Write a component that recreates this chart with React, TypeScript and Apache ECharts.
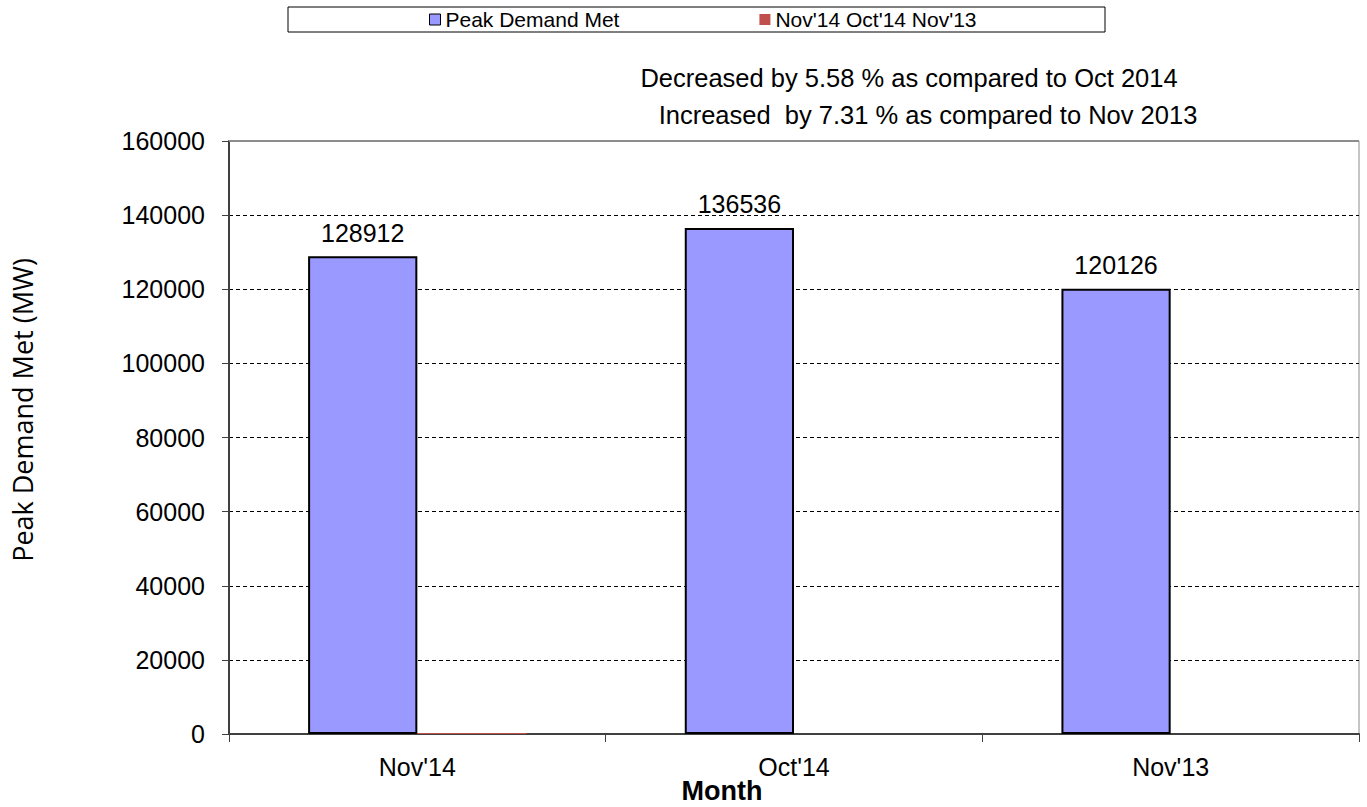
import React, { useEffect, useRef } from "react";
import * as echarts from "echarts";

const categories = ["Nov'14", "Oct'14", "Nov'13"];
const peakDemandMet = [128912, 136536, 120126];
const secondSeries = [300, 0, 0];
const seriesNames = ["Peak Demand Met", "Nov'14 Oct'14 Nov'13"];
const yTicks = { min: 0, max: 160000, interval: 20000 };
const notes = [
  "Decreased by 5.58 % as compared to Oct 2014",
  "Increased  by 7.31 % as compared to Nov 2013",
];

export default function App() {
  const ref = useRef<HTMLDivElement>(null);
  useEffect(() => {
    if (!ref.current) return;
    const chart = echarts.init(ref.current, undefined, { renderer: "svg" });
    const font = "Arial, 'Liberation Sans', sans-serif";
    chart.setOption({
      animation: false,
      textStyle: { fontFamily: font },
      grid: {
        left: 229,
        top: 141,
        right: 8,
        bottom: 73,
        show: true,
        borderColor: "#8c8c8c",
        borderWidth: 1,
      },
      legend: {
        left: 424,
        top: 4,
        itemWidth: 11,
        itemHeight: 11,
        itemGap: 140,
        icon: "rect",
        textStyle: { fontSize: 21, color: "#000", fontFamily: font },
        itemStyle: { borderWidth: 1 },
        data: seriesNames,
      },
      xAxis: {
        type: "category",
        data: categories,
        axisLine: { lineStyle: { color: "#404040", width: 2 } },
        axisTick: { show: true, length: 8, lineStyle: { color: "#404040", width: 1 } },
        axisLabel: { fontSize: 25, color: "#000", margin: 20 },
      },
      yAxis: {
        type: "value",
        min: yTicks.min,
        max: yTicks.max,
        interval: yTicks.interval,
        axisLine: { show: true, lineStyle: { color: "#404040", width: 2 } },
        axisTick: { show: true, length: 7, lineStyle: { color: "#404040", width: 1 } },
        axisLabel: { fontSize: 25, color: "#000", margin: 24, formatter: (v: number) => String(v) },
        splitLine: { show: true, lineStyle: { color: "#000", type: [4, 3], width: 1 } },
      },
      series: [
        {
          name: seriesNames[0],
          type: "bar",
          data: peakDemandMet,
          barGap: "0%",
          barCategoryGap: "42%",
          itemStyle: { color: "#9999FF", borderColor: "#000", borderWidth: 2 },
          label: { show: true, position: "top", distance: 11, fontSize: 25, color: "#000", fontFamily: font },
        },
        {
          name: seriesNames[1],
          type: "bar",
          data: secondSeries,
          itemStyle: { color: "#C0504D" },
        },
      ],
      graphic: [
        {
          type: "rect",
          shape: { x: 288, y: 7, width: 817, height: 25 },
          style: { fill: "none", stroke: "#000", lineWidth: 1 },
          silent: true,
        },
        {
          type: "line",
          shape: { x1: 229, y1: 141, x2: 1359, y2: 141 },
          style: { stroke: "#8c8c8c", lineWidth: 2 },
          z: 100,
        },
        {
          type: "text",
          x: 909,
          y: 78,
          style: { text: notes[0], font: `25.5px ${font}`, fill: "#000", textAlign: "center", textVerticalAlign: "middle" },
        },
        {
          type: "text",
          x: 928,
          y: 115,
          style: { text: notes[1], font: `25.5px ${font}`, fill: "#000", textAlign: "center", textVerticalAlign: "middle" },
        },
        {
          type: "text",
          x: 22,
          y: 410,
          rotation: Math.PI / 2,
          style: {
            text: "Peak Demand Met (MW)",
            font: "27px 'Open Sans', sans-serif",
            fill: "#000",
            textAlign: "center",
            textVerticalAlign: "middle",
          },
        },
        {
          type: "text",
          x: 722,
          y: 791,
          style: { text: "Month", font: `bold 27px ${font}`, fill: "#000", textAlign: "center", textVerticalAlign: "middle" },
        },
      ],
    });
    return () => chart.dispose();
  }, []);
  return <div ref={ref} style={{ width: 1367, height: 807, position: "absolute", left: 0, top: 0 }} />;
}
